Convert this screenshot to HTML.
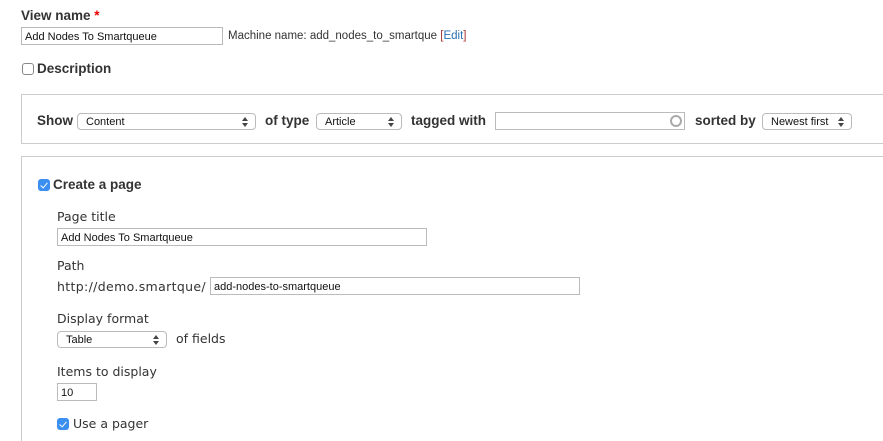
<!DOCTYPE html>
<html><head><meta charset="utf-8"><style>
*{box-sizing:border-box;margin:0;padding:0}
html,body{width:883px;height:441px;overflow:hidden}
body{background:#fff;position:relative;font-family:"DejaVu Sans","Liberation Sans",sans-serif;color:#333}
.a{position:absolute;white-space:nowrap}
.b{font-weight:bold;font-size:13.5px;color:#333;font-family:"Liberation Sans",sans-serif}
.l{font-size:12.5px;color:#333}
.inp{position:absolute;border:1px solid #bbb;background:#fff;font-family:"Liberation Sans",sans-serif;font-size:11px;color:#111;padding-left:3px;line-height:18px}
.sel{position:absolute;border:1px solid #bbb;border-radius:4px;background:#fff;font-family:"Liberation Sans",sans-serif;font-size:11px;color:#111;padding-left:8px;line-height:16px}
.sel:after{content:"";position:absolute;right:7px;top:3px;width:0;height:0;border-left:3px solid transparent;border-right:3px solid transparent;border-bottom:4px solid #444}
.sel:before{content:"";position:absolute;right:7px;top:9px;width:0;height:0;border-left:3px solid transparent;border-right:3px solid transparent;border-top:4px solid #444}
.cb{position:absolute;width:12px;height:12px;border-radius:3px}
.on{background:#3b8ff0}
.on:after{content:"";position:absolute;left:4px;top:2px;width:3px;height:6px;border:solid #fff;border-width:0 1.5px 1.5px 0;transform:rotate(40deg)}
.off{border:1px solid #888;background:#fff}
.box{position:absolute;border:1px solid #ccc;border-right:none}
</style></head><body>
<div class="a b" style="left:21px;top:8px">View name <span style="color:#e00">*</span></div>
<div class="inp" style="left:21px;top:27px;width:202px;height:18px">Add Nodes To Smartqueue</div>
<div class="a" style="left:228px;top:30px;font-size:11.5px;color:#333;font-family:'Liberation Sans',sans-serif">Machine name: add_nodes_to_smartque <span style="color:#a33">[</span><span style="color:#2a6fb3">Edit</span><span style="color:#a33">]</span></div>
<div class="cb off" style="left:22px;top:63px"></div>
<div class="a b" style="left:37px;top:61px">Description</div>

<div class="box" style="left:21px;top:94px;width:870px;height:50px"></div>
<div class="a b" style="left:37px;top:113px">Show</div>
<div class="sel" style="left:77px;top:113px;width:179px;height:17px">Content</div>
<div class="a b" style="left:265px;top:113px">of type</div>
<div class="sel" style="left:316px;top:113px;width:86px;height:17px">Article</div>
<div class="a b" style="left:411px;top:113px">tagged with</div>
<div class="inp" style="left:495px;top:112px;width:190px;height:18px"></div>
<div class="a" style="left:670px;top:115px;width:12px;height:12px;border:2px solid #aaa;border-radius:50%"></div>
<div class="a b" style="left:695px;top:113px">sorted by</div>
<div class="sel" style="left:762px;top:113px;width:90px;height:17px">Newest first</div>

<div class="box" style="left:21px;top:156px;width:870px;height:300px"></div>
<div class="cb on" style="left:38px;top:179px"></div>
<div class="a b" style="left:53px;top:177px">Create a page</div>
<div class="a l" style="left:57px;top:209px">Page title</div>
<div class="inp" style="left:57px;top:228px;width:370px;height:18px">Add Nodes To Smartqueue</div>
<div class="a l" style="left:57px;top:258px">Path</div>
<div class="a l" style="left:57px;top:279px;letter-spacing:0.35px">http://demo.smartque/</div>
<div class="inp" style="left:210px;top:277px;width:370px;height:18px">add-nodes-to-smartqueue</div>
<div class="a l" style="left:57px;top:311px">Display format</div>
<div class="sel" style="left:57px;top:331px;width:110px;height:17px">Table</div>
<div class="a l" style="left:176px;top:331px">of fields</div>
<div class="a l" style="left:57px;top:364px">Items to display</div>
<div class="inp" style="left:57px;top:383px;width:40px;height:18px">10</div>
<div class="cb on" style="left:57px;top:418px"></div>
<div class="a l" style="left:73px;top:416px">Use a pager</div>
</body></html>
